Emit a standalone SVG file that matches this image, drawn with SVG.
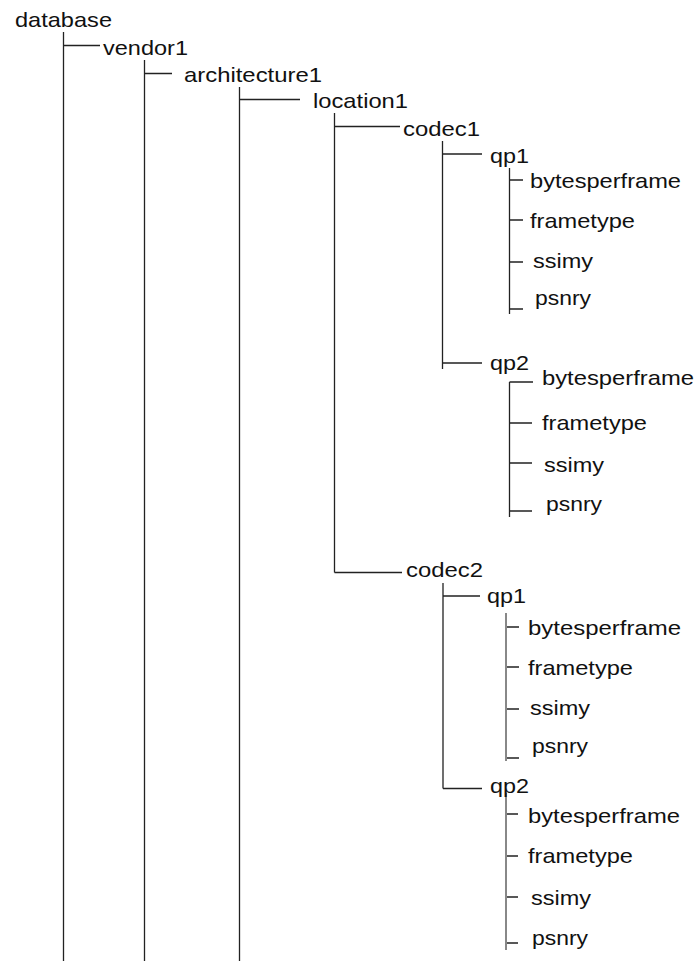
<svg xmlns="http://www.w3.org/2000/svg" width="698" height="961" viewBox="0 0 698 961">
<style>
text{font-family:"Liberation Sans",Arial,sans-serif;font-size:21px;fill:#111}
.l{stroke:#222;stroke-width:1.3;fill:none}
.g{stroke:#888;stroke-width:2;fill:none}
</style>
<rect width="698" height="961" fill="#fff"/>
<g id="connectors">
<path class="l" d="M63.5 32V961M63.5 45.5H100"/>
<path class="l" d="M144.5 60V961M144.5 73.5H172"/>
<path class="l" d="M239.5 87V961M239.5 99.5H300"/>
<path class="l" d="M334.5 113V572.5M334.5 126.5H400M334.5 572.5H402"/>
<path class="l" d="M442.5 141V369M442.5 154H482M442.5 363H482"/>
<path class="l" d="M509.5 168V314M509.5 180H523M509.5 220H523M509.5 262H523M509.5 309H523"/>
<path class="l" d="M509.5 382V517M509.5 382H533M509.5 423H532M509.5 463H532M509.5 511H532"/>
<path class="l" d="M443 583V788.5M443 596H480M443 788.5H482"/>
<path class="g" d="M506 613V761"/>
<path class="l" d="M507 627H519M507 667H519M507 709H519M507 758H519"/>
<path class="g" d="M506 793V950"/>
<path class="l" d="M507 814H518M507 856H518M507 897H518M507 943H518"/>
</g>
<g id="database"><text x="15" y="27" textLength="97" lengthAdjust="spacingAndGlyphs">database</text></g>
<g id="vendor1"><text x="103" y="55" textLength="85" lengthAdjust="spacingAndGlyphs">vendor1</text></g>
<g id="architecture1"><text x="184" y="82" textLength="138" lengthAdjust="spacingAndGlyphs">architecture1</text></g>
<g id="location1"><text x="313" y="108" textLength="95" lengthAdjust="spacingAndGlyphs">location1</text></g>
<g id="codec1"><text x="403" y="136" textLength="77" lengthAdjust="spacingAndGlyphs">codec1</text></g>
<g id="codec1-qp1"><text x="490" y="163" textLength="39" lengthAdjust="spacingAndGlyphs">qp1</text></g>
<g id="codec1-qp1-bytesperframe"><text x="530" y="188" textLength="151" lengthAdjust="spacingAndGlyphs">bytesperframe</text></g>
<g id="codec1-qp1-frametype"><text x="530" y="228" textLength="105" lengthAdjust="spacingAndGlyphs">frametype</text></g>
<g id="codec1-qp1-ssimy"><text x="533" y="268" textLength="60" lengthAdjust="spacingAndGlyphs">ssimy</text></g>
<g id="codec1-qp1-psnry"><text x="535" y="305" textLength="56" lengthAdjust="spacingAndGlyphs">psnry</text></g>
<g id="codec1-qp2"><text x="490" y="370" textLength="39" lengthAdjust="spacingAndGlyphs">qp2</text></g>
<g id="codec1-qp2-bytesperframe"><text x="542" y="385" textLength="152" lengthAdjust="spacingAndGlyphs">bytesperframe</text></g>
<g id="codec1-qp2-frametype"><text x="542" y="430" textLength="105" lengthAdjust="spacingAndGlyphs">frametype</text></g>
<g id="codec1-qp2-ssimy"><text x="544" y="472" textLength="60" lengthAdjust="spacingAndGlyphs">ssimy</text></g>
<g id="codec1-qp2-psnry"><text x="546" y="511" textLength="56" lengthAdjust="spacingAndGlyphs">psnry</text></g>
<g id="codec2"><text x="406" y="577" textLength="77" lengthAdjust="spacingAndGlyphs">codec2</text></g>
<g id="codec2-qp1"><text x="487" y="603" textLength="39" lengthAdjust="spacingAndGlyphs">qp1</text></g>
<g id="codec2-qp1-bytesperframe"><text x="528" y="635" textLength="153" lengthAdjust="spacingAndGlyphs">bytesperframe</text></g>
<g id="codec2-qp1-frametype"><text x="528" y="675" textLength="105" lengthAdjust="spacingAndGlyphs">frametype</text></g>
<g id="codec2-qp1-ssimy"><text x="530" y="715" textLength="60" lengthAdjust="spacingAndGlyphs">ssimy</text></g>
<g id="codec2-qp1-psnry"><text x="532" y="753" textLength="56" lengthAdjust="spacingAndGlyphs">psnry</text></g>
<g id="codec2-qp2"><text x="490" y="793" textLength="39" lengthAdjust="spacingAndGlyphs">qp2</text></g>
<g id="codec2-qp2-bytesperframe"><text x="528" y="823" textLength="152" lengthAdjust="spacingAndGlyphs">bytesperframe</text></g>
<g id="codec2-qp2-frametype"><text x="528" y="863" textLength="105" lengthAdjust="spacingAndGlyphs">frametype</text></g>
<g id="codec2-qp2-ssimy"><text x="531" y="905" textLength="60" lengthAdjust="spacingAndGlyphs">ssimy</text></g>
<g id="codec2-qp2-psnry"><text x="532" y="945" textLength="56" lengthAdjust="spacingAndGlyphs">psnry</text></g>
</svg>
